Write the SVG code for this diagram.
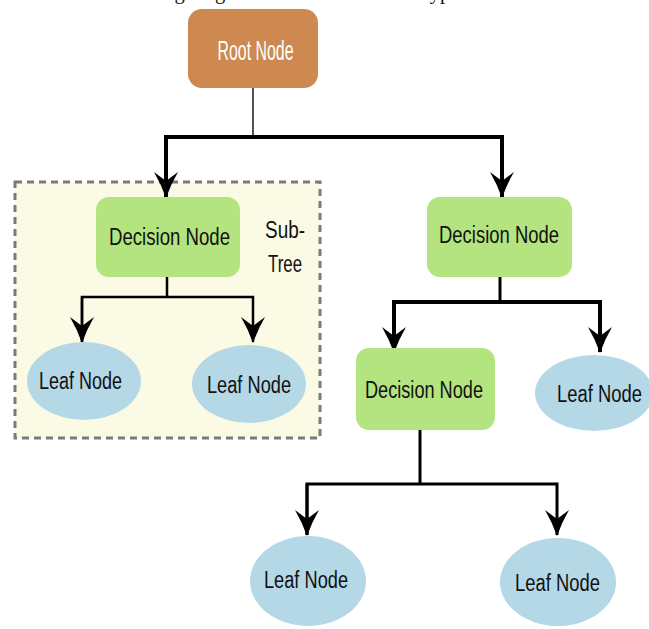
<svg xmlns="http://www.w3.org/2000/svg" width="649" height="629" viewBox="0 0 649 629">
  <style>
    .caption { font-family: "Liberation Serif", "Times New Roman", serif; font-size: 20.5px; fill: #111; }
    .label { font-family: "Liberation Sans Narrow", "Liberation Sans", Arial, sans-serif; font-size: 23px; fill: #111; }
    .root-label { font-family: "Liberation Sans Narrow", "Liberation Sans", Arial, sans-serif; font-size: 28px; fill: #fff; }
    .root { fill: #CD8950; }
    .decision { fill: #B3E47F; }
    .leaf { fill: #B5D8E7; }
    .subtree { fill: #FAFAE5; stroke: #7a7a7a; stroke-width: 3; stroke-dasharray: 7 5; }
    .edge { fill: none; stroke: #000; stroke-linejoin: miter; }
    .stem { fill: none; stroke: #555; stroke-width: 2; }
  </style>
  <defs>
    <marker id="arrow" viewBox="0 0 26 24" refX="25" refY="12" markerWidth="26" markerHeight="24" markerUnits="userSpaceOnUse" orient="auto">
      <path d="M0,0 Q12,7 26,12 Q12,17 0,24 L9,12 Z" fill="#000"/>
    </marker>
  </defs>

  <!-- caption line running off the top edge -->
  <text class="caption" x="68" y="-1">The following diagram shows the different types</text>

  <!-- sub-tree frame -->
  <g id="subtree">
    <rect class="subtree" x="15" y="182" width="305" height="256"/>
    <text class="label" x="285" y="238" text-anchor="middle" textLength="40" lengthAdjust="spacingAndGlyphs">Sub-</text>
    <text class="label" x="285" y="272" text-anchor="middle" textLength="34" lengthAdjust="spacingAndGlyphs">Tree</text>
  </g>

  <!-- connectors -->
  <g id="connectors">
    <line class="stem" x1="253" y1="88" x2="253" y2="137"/>
    <path class="edge" stroke-width="4" d="M166,197 V137 H502 V197" marker-end="url(#arrow)"/>
    <path class="edge" stroke-width="4" d="M166,137 V197" marker-end="url(#arrow)"/>

    <line class="edge" stroke-width="2.5" x1="167" y1="277" x2="167" y2="297"/>
    <path class="edge" stroke-width="2.5" d="M82,342 V297 H253 V342" marker-end="url(#arrow)"/>
    <path class="edge" stroke-width="2.5" d="M82,297 V342" marker-end="url(#arrow)"/>

    <line class="edge" stroke-width="3" x1="500" y1="277" x2="500" y2="302"/>
    <path class="edge" stroke-width="4" d="M394,352 V302 H600 V352" marker-end="url(#arrow)"/>
    <path class="edge" stroke-width="4" d="M394,302 V352" marker-end="url(#arrow)"/>

    <line class="edge" stroke-width="3" x1="420" y1="430" x2="420" y2="484"/>
    <path class="edge" stroke-width="3" d="M307,535 V484 H557 V535" marker-end="url(#arrow)"/>
    <path class="edge" stroke-width="3" d="M307,484 V535" marker-end="url(#arrow)"/>
  </g>

  <g id="root-node">
    <rect class="root" x="188" y="9" width="130" height="79" rx="14"/>
    <text class="root-label" x="255.5" y="60" text-anchor="middle" textLength="76" lengthAdjust="spacingAndGlyphs">Root Node</text>
  </g>

  <g id="decision-left">
    <rect class="decision" x="96" y="197" width="144" height="80" rx="13"/>
    <text class="label" x="169.5" y="245" text-anchor="middle" textLength="121" lengthAdjust="spacingAndGlyphs">Decision Node</text>
  </g>

  <g id="leaf-left-1">
    <ellipse class="leaf" cx="84" cy="381" rx="57" ry="39"/>
    <text class="label" x="80.5" y="389" text-anchor="middle" textLength="83" lengthAdjust="spacingAndGlyphs">Leaf Node</text>
  </g>

  <g id="leaf-left-2">
    <ellipse class="leaf" cx="249" cy="384" rx="57" ry="39"/>
    <text class="label" x="249" y="393" text-anchor="middle" textLength="84" lengthAdjust="spacingAndGlyphs">Leaf Node</text>
  </g>

  <g id="decision-right">
    <rect class="decision" x="427" y="197" width="145" height="80" rx="13"/>
    <text class="label" x="499" y="243" text-anchor="middle" textLength="120" lengthAdjust="spacingAndGlyphs">Decision Node</text>
  </g>

  <g id="decision-middle">
    <rect class="decision" x="356" y="348" width="139" height="82" rx="13"/>
    <text class="label" x="424" y="398" text-anchor="middle" textLength="118" lengthAdjust="spacingAndGlyphs">Decision Node</text>
  </g>

  <g id="leaf-right">
    <ellipse class="leaf" cx="594" cy="393" rx="59" ry="38"/>
    <text class="label" x="599.5" y="402" text-anchor="middle" textLength="85" lengthAdjust="spacingAndGlyphs">Leaf Node</text>
  </g>

  <g id="leaf-bottom-1">
    <ellipse class="leaf" cx="308" cy="581" rx="58" ry="45"/>
    <text class="label" x="306" y="588" text-anchor="middle" textLength="84" lengthAdjust="spacingAndGlyphs">Leaf Node</text>
  </g>

  <g id="leaf-bottom-2">
    <ellipse class="leaf" cx="558" cy="582" rx="58" ry="44"/>
    <text class="label" x="557.5" y="591" text-anchor="middle" textLength="85" lengthAdjust="spacingAndGlyphs">Leaf Node</text>
  </g>
</svg>
